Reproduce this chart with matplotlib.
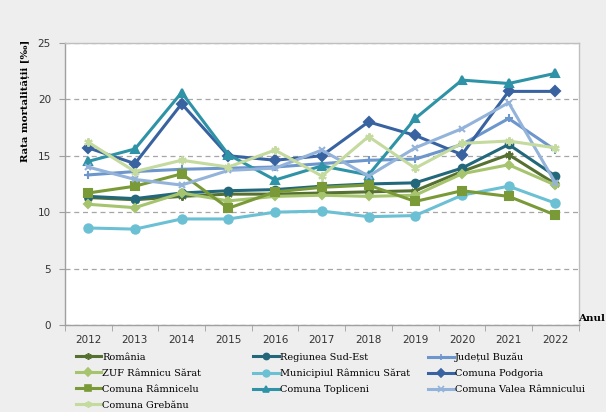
import matplotlib
matplotlib.use("Agg")
import matplotlib.pyplot as plt
from matplotlib.lines import Line2D

# years on the x axis
years = ["2012", "2013", "2014", "2015", "2016", "2017", "2018", "2019", "2020", "2021", "2022"]

# mortality rate per 1000 inhabitants
romania = [11.3, 11.1, 11.4, 11.6, 11.6, 11.7, 11.8, 11.9, 13.6, 15.1, 12.5]
regiunea_se = [11.4, 11.2, 11.7, 11.9, 12.0, 12.3, 12.5, 12.6, 13.9, 16.0, 13.2]
judetul_buzau = [13.3, 13.6, 13.8, 13.9, 14.0, 14.3, 14.6, 14.7, 16.0, 18.3, 15.5]
zuf_rs = [10.7, 10.4, 11.7, 11.0, 11.4, 11.5, 11.4, 11.5, 13.4, 14.2, 12.4]
municipiul_rs = [8.6, 8.5, 9.4, 9.4, 10.0, 10.1, 9.6, 9.7, 11.5, 12.3, 10.8]
podgoria = [15.7, 14.3, 19.6, 15.0, 14.6, 15.0, 18.0, 16.8, 15.1, 20.7, 20.7]
ramnicelu = [11.7, 12.3, 13.4, 10.35, 11.8, 12.2, 12.4, 10.95, 11.9, 11.4, 9.75]
topliceni = [14.5, 15.6, 20.6, 15.1, 12.85, 14.1, 13.3, 18.3, 21.7, 21.4, 22.3]
valea_ramnicului = [14.0, 12.9, 12.4, 13.7, 13.9, 15.5, 13.2, 15.7, 17.4, 19.7, 12.6]
grebanu = [16.2, 13.6, 14.6, 14.0, 15.5, 13.2, 16.7, 13.9, 16.1, 16.3, 15.7]

series = [
    ("România", romania, "#557030", (6, 2, 0), 6),
    ("Regiunea Sud-Est", regiunea_se, "#23687A", "o", 5.5),
    ("Județul Buzău", judetul_buzau, "#6C96CC", "+", 6),
    ("ZUF Râmnicu Sărat", zuf_rs, "#A6C46E", "D", 4.5),
    ("Municipiul Râmnicu Sărat", municipiul_rs, "#6CC0D4", "o", 6),
    ("Comuna Podgoria", podgoria, "#3863A0", "D", 5),
    ("Comuna Râmnicelu", ramnicelu, "#7A9A38", "s", 6),
    ("Comuna Topliceni", topliceni, "#2E93A6", "^", 6),
    ("Comuna Valea Râmnicului", valea_ramnicului, "#93B3DB", "x", 5),
    ("Comuna Grebănu", grebanu, "#C4DA9E", (6, 2, 0), 6),
]

fig = plt.figure(figsize=(6.06, 4.12), dpi=100, facecolor="#EEEEEE")
ax = fig.add_axes([0.107, 0.211, 0.848, 0.685])
ax.set_facecolor("white")

x = list(range(len(years)))
handles = []
for name, vals, col, mk, ms in series:
    ax.plot(x, vals, color=col, lw=2.2, marker=mk, ms=ms, mec=col, mfc=col, mew=1.5)
    handles.append(Line2D([], [], color=col, lw=2.2, marker=mk, ms=ms * 0.8,
                          mec=col, mfc=col, mew=1.2, label=name))

ax.set_xlim(-0.5, len(years) - 0.5)
ax.set_ylim(0, 25)
ax.set_yticks([0, 5, 10, 15, 20, 25])
ax.set_xticks(x)
ax.set_xticklabels(years)
ax.set_xticks([i - 0.5 for i in range(len(years) + 1)], minor=True)
ax.tick_params(axis="x", which="major", length=0, pad=7, labelsize=7.5, labelcolor="#333333")
ax.tick_params(axis="x", which="minor", length=4, color="#A0A0A0")
ax.tick_params(axis="y", length=4, color="#A0A0A0", labelsize=7.5, labelcolor="#333333", pad=6)

ax.grid(axis="y", linestyle=(0, (4, 3)), color="#A6A6A6", lw=0.9)
for s in ax.spines.values():
    s.set_color("#BFBFBF")
    s.set_linewidth(1)
ax.spines["left"].set_color("#A0A0A0")
ax.spines["bottom"].set_color("#A0A0A0")

fig.text(0.042, 0.755, "Rata mortalității [‰]", rotation=90, ha="center", va="center",
         fontsize=7.3, fontweight="bold", family="DejaVu Serif")
fig.text(0.999, 0.226, "Anul", ha="right", va="center",
         fontsize=7.5, fontweight="bold", family="DejaVu Serif")

# three legend columns, placed like the original
col_x = [0.125, 0.418, 0.707]
groups = [handles[0::3], handles[1::3], handles[2::3]]
for cx, grp in zip(col_x, groups):
    fig.legend(handles=grp, loc="upper left", bbox_to_anchor=(cx, 0.144),
               frameon=False, handlelength=2.6, handletextpad=0.1,
               labelspacing=0.72, borderaxespad=0, borderpad=0,
               prop={"family": "DejaVu Serif", "size": 7})

fig.savefig("out.png", dpi=100, facecolor=fig.get_facecolor())
